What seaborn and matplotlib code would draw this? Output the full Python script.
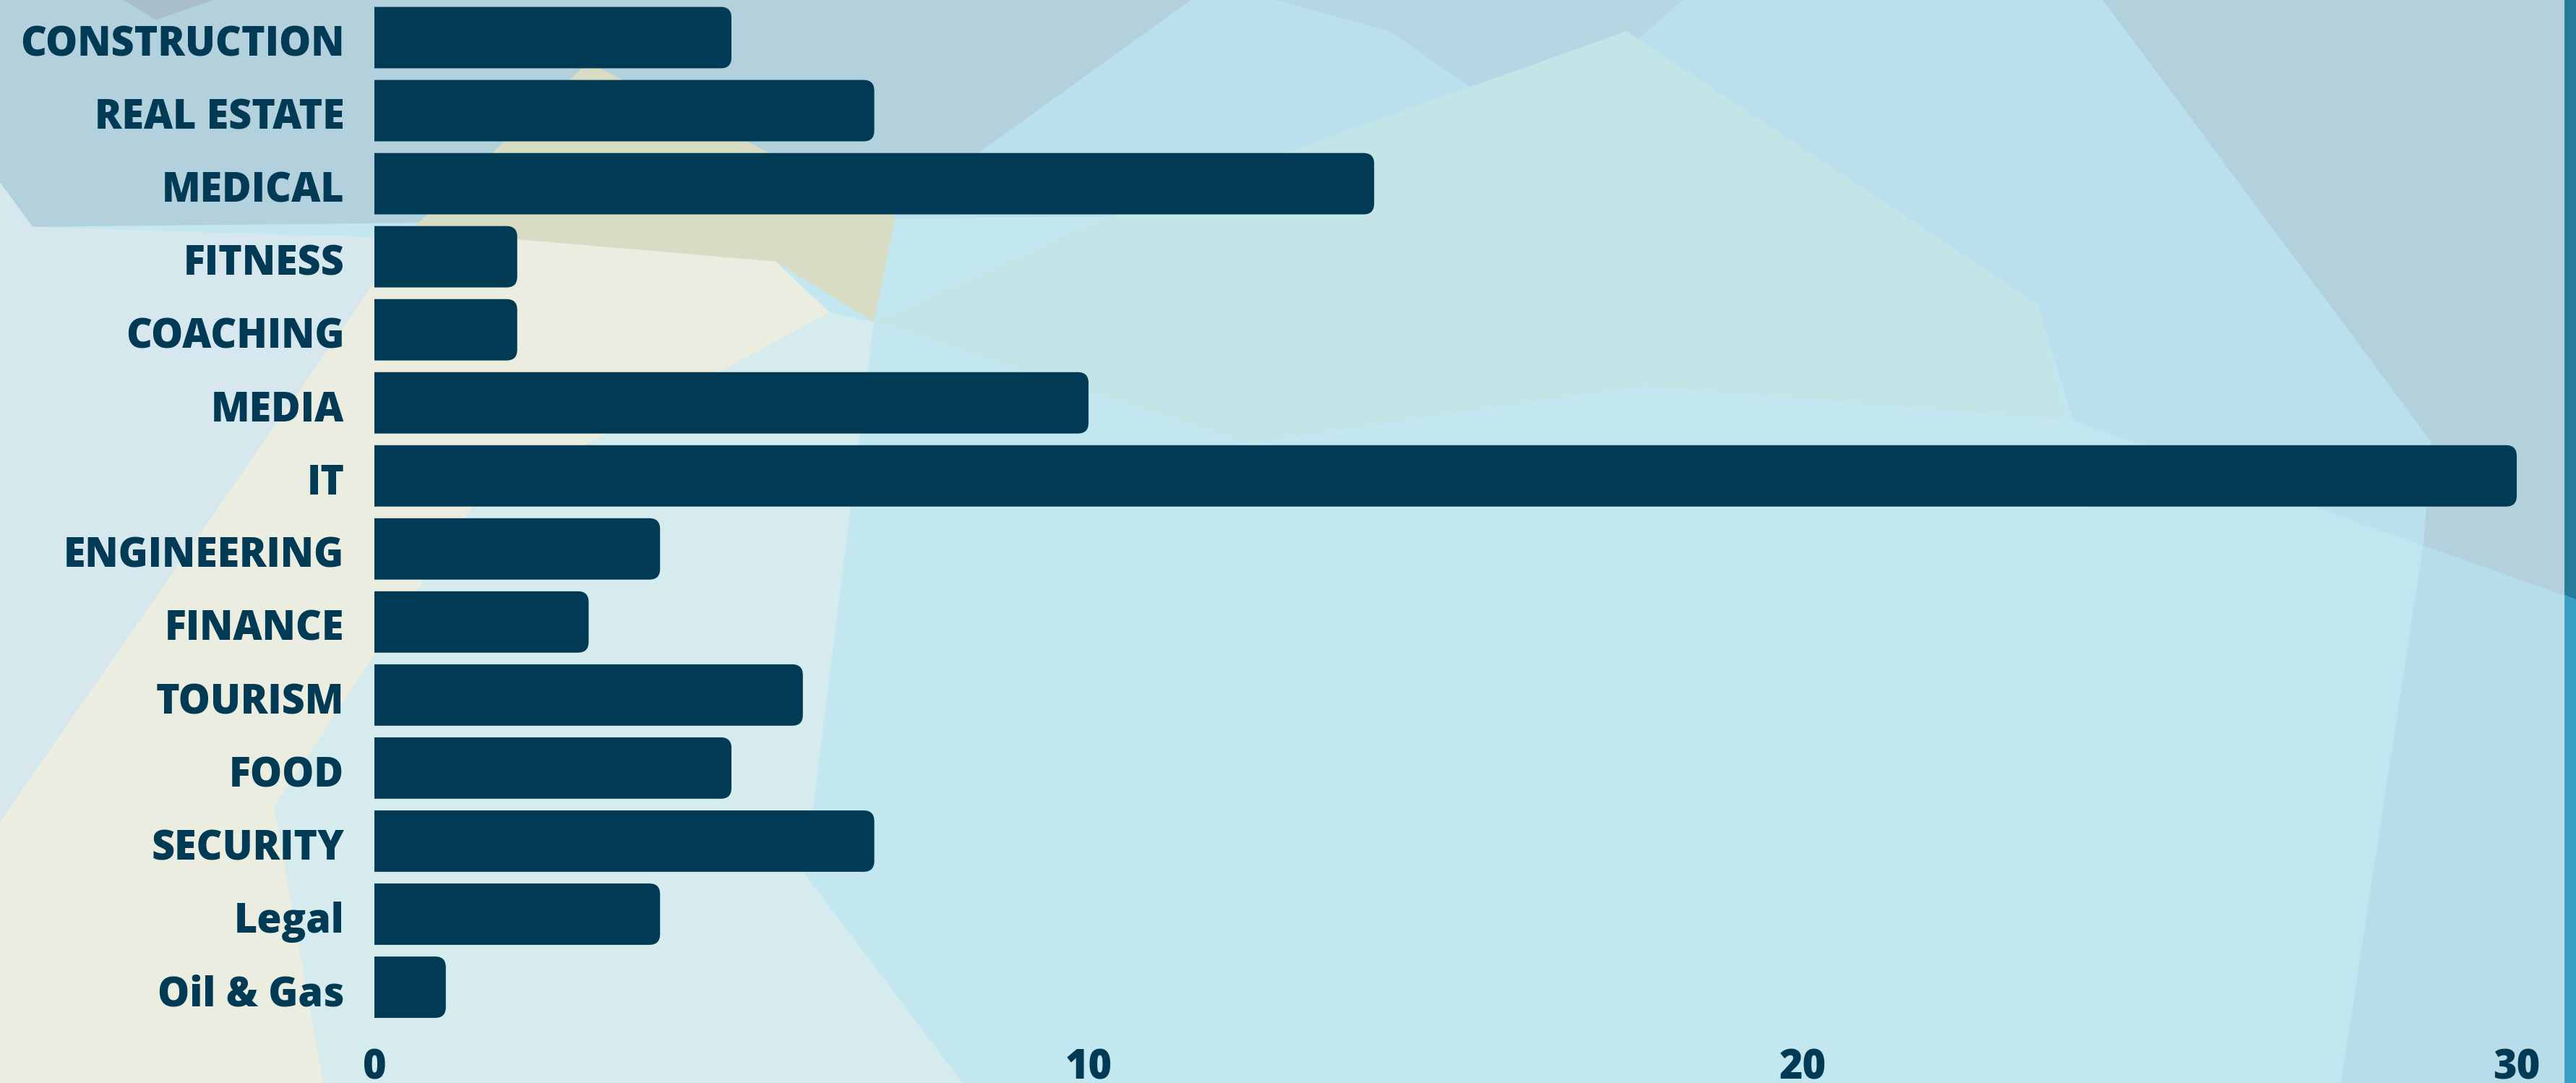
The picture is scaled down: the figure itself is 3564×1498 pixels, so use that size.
import numpy as np
import pandas as pd
import seaborn as sns
import matplotlib.pyplot as plt
import matplotlib.transforms as mtransforms
from matplotlib.patches import FancyBboxPatch, Polygon, Rectangle

# data
categories = ['CONSTRUCTION', 'REAL ESTATE', 'MEDICAL', 'FITNESS', 'COACHING', 'MEDIA', 'IT',
              'ENGINEERING', 'FINANCE', 'TOURISM', 'FOOD', 'SECURITY', 'Legal', 'Oil & Gas']
counts = [5, 7, 14, 2, 2, 10, 30, 4, 3, 6, 5, 7, 4, 1]
x_ticks = [0, 10, 20, 30]

navy = '#003a54'

# low-poly backdrop, drawn on a 1568 x 659 grid (decoration only)
bg_base = '#c2e7f0'
bg_shapes = [
    ('#d7e7ee', [(0, 111), (20, 138), (250, 145), (0, 500)]),
    ('#eaede0', [(250, 140), (472, 159), (505, 190), (288, 308), (167, 491), (197, 659), (0, 659), (0, 500)]),
    ('#d5ebee', [(505, 190), (532, 196), (518, 308), (490, 532), (586, 659), (197, 659), (167, 491), (288, 308)]),
    ('#bae0ee', [(597, 92), (725, 0), (1280, 0), (1480, 269), (1475, 332), (1262, 256), (1240, 185), (990, 19), (673, 132), (510, 133)]),
    ('#b5d6e2', [(777, 0), (1024, 0), (934, 80), (846, 19)]),
    ('#c4e5e8', [(990, 19), (1240, 185), (1262, 256), (1000, 235), (760, 270), (532, 196), (673, 132)]),
    ('#c0e6ef', [(1240, 185), (1262, 256), (1475, 332), (1425, 659), (1356, 659), (1300, 420)]),
    ('#b2d1dc', [(0, 0), (725, 0), (597, 92), (510, 133), (20, 138), (0, 111)]),
    ('#d8dcc2', [(358, 38), (545, 131), (532, 196), (472, 159), (250, 140)]),
    ('#b3d1dc', [(1280, 0), (1568, 0), (1568, 365), (1475, 332), (1480, 269)]),
    ('#b7dcea', [(1475, 332), (1568, 365), (1568, 659), (1425, 659)]),
    ('#a8bec8', [(75, 0), (130, 0), (95, 12)]),
]

plt.rcParams['font.family'] = ['Open Sans', 'DejaVu Sans']
plt.rcParams['font.weight'] = 'heavy'

W, H = 3564, 1498
fig = plt.figure(figsize=(W / 100, H / 100), dpi=100)

bg = fig.add_axes([0, 0, 1, 1], zorder=0)
bg.set_xlim(0, 1568)
bg.set_ylim(659, 0)
bg.axis('off')
bg.add_patch(Rectangle((0, 0), 1568, 659, fc=bg_base, ec='none'))
for col, pts in bg_shapes:
    bg.add_patch(Polygon(pts, closed=True, fc=col, ec='none'))
# right edge strip
bg.add_patch(Polygon([(1561, 0), (1568, 0), (1568, 365), (1561, 362)], fc='#247c9a', ec='none'))
bg.add_patch(Polygon([(1561, 362), (1568, 365), (1568, 659), (1561, 659)], fc='#379fc4', ec='none'))

# main axes placed to match the reference plot area
left, right = 518 / W, 3482 / W
top_px, bot_px = 1.5, 1416
ax = fig.add_axes([left, 1 - bot_px / H, right - left, (bot_px - top_px) / H], zorder=1)
ax.set_facecolor('none')

df = pd.DataFrame({'category': categories, 'count': counts})
sns.barplot(data=df, x='count', y='category', orient='h', color=navy, width=0.84, ax=ax)

# swap plain bars for ones with rounded right ends
for p in list(ax.patches):
    x0, y0, w, h = p.get_x(), p.get_y(), p.get_width(), p.get_height()
    p.remove()
    ax.add_patch(FancyBboxPatch((x0 - 0.5, y0), w + 0.5, h,
                                boxstyle='round,pad=0,rounding_size=0.15',
                                mutation_aspect=0.98, fc=navy, ec='none'))

ax.set_xlim(0, 30)
ax.set_ylim(len(categories) - 0.5, -0.5)
ax.set_xticks(x_ticks)
ax.set_xlabel('')
ax.set_ylabel('')
for s in ax.spines.values():
    s.set_visible(False)
ax.tick_params(axis='y', length=0, pad=30, labelsize=40, labelcolor=navy)
ax.tick_params(axis='x', length=0, pad=24, labelsize=40, labelcolor=navy)

# nudge category labels down a touch
shift = mtransforms.ScaledTranslation(0, -3 / 72, fig.dpi_scale_trans)
for lbl in ax.get_yticklabels():
    lbl.set_transform(lbl.get_transform() + shift)

fig.savefig('out.png', dpi=100)
